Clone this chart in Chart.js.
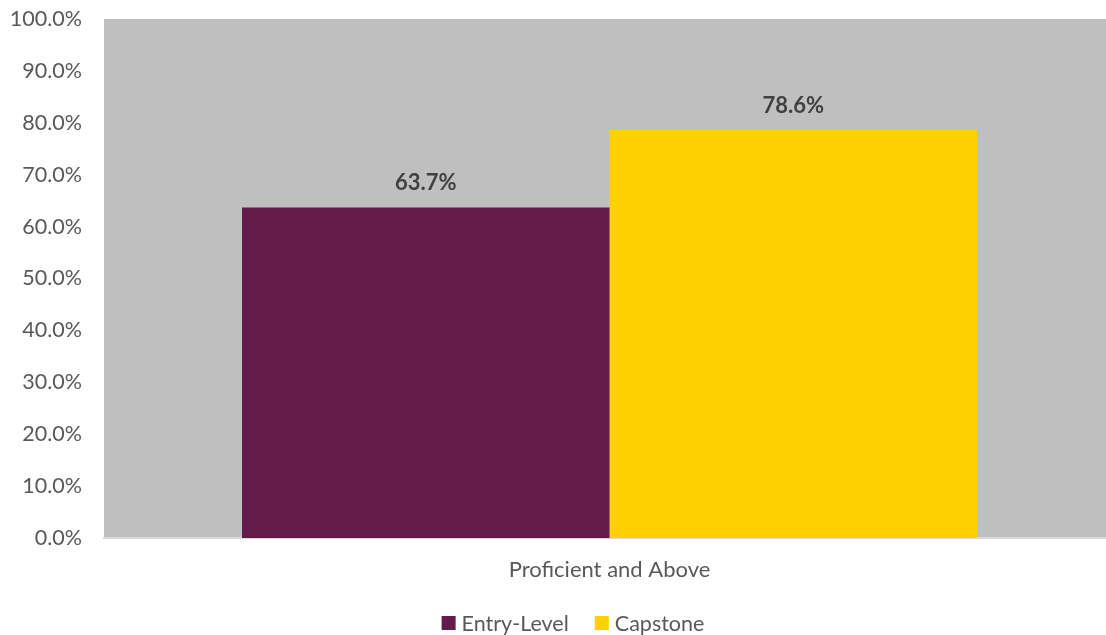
<!DOCTYPE html>
<html>
<head>
<meta charset="utf-8">
<script src="https://cdn.jsdelivr.net/npm/chart.js@4"></script>
<style>
html,body{margin:0;padding:0;background:#fff;overflow:hidden;}
#wrap{width:1106px;height:635px;position:relative;overflow:hidden;}
</style>
</head>
<body>
<div id="wrap"><canvas id="c" width="1115" height="635"></canvas></div>
<script>
const categories = ["Proficient and Above"];
const seriesNames = ["Entry-Level", "Capstone"];
const entryLevel = [63.7];
const capstone = [78.6];
const seriesColors = ["#621B4B", "#FFD100"];

const FONT = "Lato, 'Open Sans', sans-serif";

const bgPlugin = {
  id: 'plotBg',
  beforeDraw(chart) {
    const {ctx, chartArea: a} = chart;
    ctx.save();
    ctx.fillStyle = '#BFBFBF';
    ctx.fillRect(a.left, a.top, chart.width - a.left, a.bottom - a.top);
    ctx.restore();
  }
};
const labelPlugin = {
  id: 'valLabels',
  afterDatasetsDraw(chart) {
    const ctx = chart.ctx;
    ctx.save();
    ctx.font = "bold 22px " + FONT;
    ctx.fillStyle = '#404040';
    ctx.textAlign = 'center';
    ctx.textBaseline = 'middle';
    chart.data.datasets.forEach((ds, i) => {
      chart.getDatasetMeta(i).data.forEach((el, j) => {
        ctx.fillText(ds.data[j].toFixed(1) + '%', el.x, el.y - 24);
      });
    });
    ctx.restore();
  }
};
const legendPlugin = {
  id: 'customLegend',
  afterDraw(chart) {
    const ctx = chart.ctx;
    ctx.save();
    ctx.font = "21.5px " + FONT;
    ctx.textBaseline = 'middle';
    const box = 14, gap = 6, itemGap = 26;
    const items = chart.data.datasets.map(ds => ({text: ds.label, color: ds.backgroundColor, w: box + gap + ctx.measureText(ds.label).width}));
    const total = items.reduce((s, it) => s + it.w, 0) + itemGap * (items.length - 1);
    let x = 573 - total / 2;
    const cy = 623;
    items.forEach(it => {
      ctx.fillStyle = it.color;
      ctx.fillRect(x, cy - box / 2, box, box);
      ctx.fillStyle = '#595959';
      ctx.textAlign = 'left';
      ctx.fillText(it.text, x + box + gap, cy + 1);
      x += it.w + itemGap;
    });
    ctx.restore();
  }
};

new Chart(document.getElementById('c'), {
  type: 'bar',
  data: {
    labels: categories,
    datasets: [
      {label: seriesNames[0], data: entryLevel, backgroundColor: seriesColors[0]},
      {label: seriesNames[1], data: capstone, backgroundColor: seriesColors[1]}
    ]
  },
  options: {
    responsive: false,
    animation: false,
    categoryPercentage: 0.727,
    barPercentage: 1,
    layout: {padding: {top: 19, right: 0, left: 0, bottom: 49}},
    plugins: {
      legend: {display: false},
      tooltip: {enabled: false}
    },
    scales: {
      x: {
        afterFit(scale) { scale.height = 48; scale.paddingLeft = 0; scale.paddingRight = 0; },
        grid: {display: false, drawTicks: false},
        border: {display: true, color: '#D9D9D9', width: 2},
        ticks: {font: {family: FONT, size: 22}, color: '#595959', padding: 19}
      },
      y: {
        min: 0, max: 100,
        afterFit(scale) { scale.width = 104; scale.paddingTop = 0; scale.paddingBottom = 0; },
        grid: {display: false, drawTicks: false},
        border: {display: false},
        ticks: {
          stepSize: 10,
          font: {family: FONT, size: 21.5},
          color: '#595959',
          padding: 22,
          callback: v => v.toFixed(1) + '%'
        }
      }
    }
  },
  plugins: [bgPlugin, labelPlugin, legendPlugin]
});
</script>
</body>
</html>
